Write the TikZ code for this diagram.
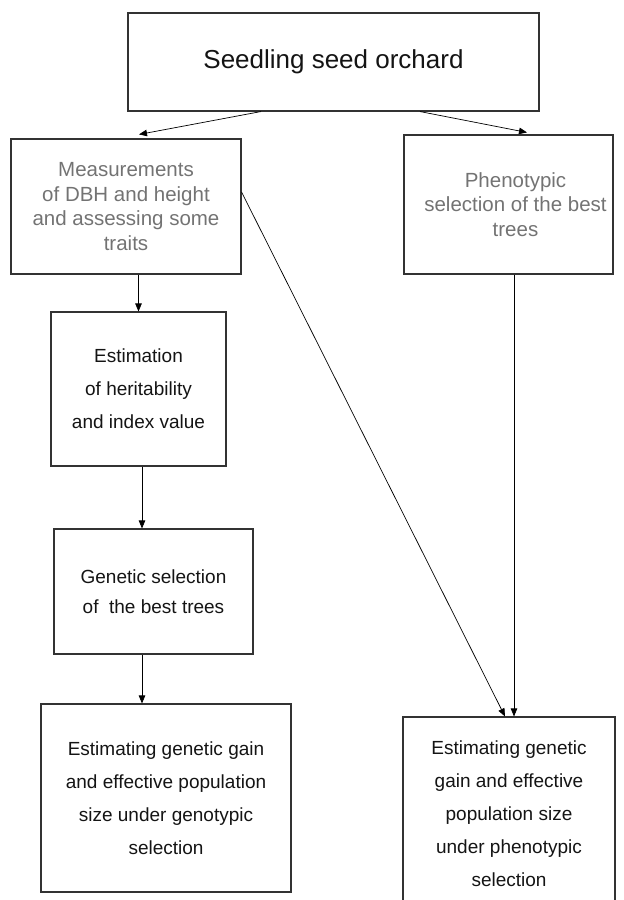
\documentclass[tikz,border=0pt]{standalone}
\usepackage{fontspec}
\setmainfont{Liberation Sans}
\usetikzlibrary{arrows.meta}
\begin{document}
\begin{tikzpicture}[x=1pt, y=-1pt, line width=0.7pt,
    >={Triangle[length=8pt,width=6.5pt]},
    every text node part/.style={align=center},
    box/.style={draw=black!80, line width=1.1pt, inner sep=0pt, text=black!92},
    big/.style={font=\fontsize{26}{30}\selectfont},
    txt/.style={font=\fontsize{19}{33}\selectfont},
    faded/.style={font=\fontsize{20.5}{24.5}\selectfont, text=black!55}]
    \useasboundingbox (0,0) rectangle (624,900);

    % Boxes
    \node[box, big, minimum width=411pt, minimum height=98pt] (orchard) at (333.5,62)
      {Seedling seed orchard};
    \node[box, faded, minimum width=230pt, minimum height=135pt] (meas) at (126,206.5)
      {Measurements\\ of DBH and height\\ and assessing some\\ traits};
    \node[box, faded, minimum width=209pt, minimum height=139pt] (pheno) at (508.5,204.5)
      {\hspace*{14pt}Phenotypic\\ \hspace*{14pt}selection of the best\\ \hspace*{14pt}trees};
    \node[box, txt, minimum width=175pt, minimum height=154pt] (estim) at (138.5,389)
      {Estimation\\ of heritability\\ and index value};
    \node[box, txt, font=\fontsize{19}{30}\selectfont, minimum width=199pt,
      minimum height=125pt] (genet) at (153.5,591.5)
      {Genetic selection\\ of\ \ the best trees};
    \node[box, txt, minimum width=250pt, minimum height=188pt] (gainG) at (166,798)
      {Estimating genetic gain\\ and effective population\\
       size under genotypic\hspace*{12pt}\\ selection};
    \node[box, txt, minimum width=212pt, minimum height=194pt] (gainP) at (509,814)
      {Estimating genetic\\ gain and effective\\ population size\\
       under phenotypic\\ selection};

    % Arcs
    \draw[->] ([xshift=-72.5pt]orchard.south) -- ([xshift=13pt,yshift=4pt]meas.north);
    \draw[->] ([xshift=86.5pt]orchard.south) -- ([xshift=18.5pt,yshift=2pt]pheno.north);
    \draw[->] (estim.north |- meas.south) -- (estim.north);
    \draw[->] ([xshift=3.5pt]estim.south) -- ([xshift=3.5pt]estim.south |- genet.north);
    \draw[->] ([xshift=-11.5pt]genet.south) -- ([xshift=-11.5pt]genet.south |- gainG.north);
    \draw[->] ([yshift=14.5pt]meas.east) -- ([xshift=-4pt]gainP.north);
    \draw[->] ([xshift=5.5pt]pheno.south) -- ([xshift=5pt]gainP.north);
  \end{tikzpicture}
\end{document}
